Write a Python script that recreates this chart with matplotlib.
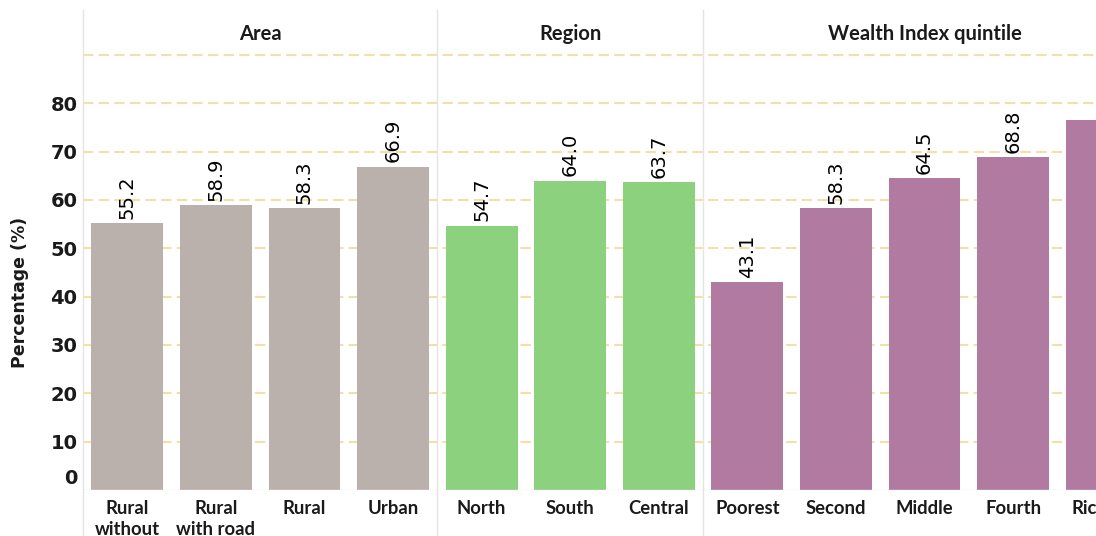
import matplotlib
matplotlib.use("Agg")
from matplotlib import pyplot as plt
from matplotlib.transforms import ScaledTranslation

# Percentages by group
groups = ["Area", "Region", "Wealth Index quintile"]
area_labels = ["Rural\nwithout\nroad", "Rural\nwith road", "Rural", "Urban"]
area_values = [55.2, 58.9, 58.3, 66.9]
region_labels = ["North", "South", "Central"]
region_values = [54.7, 64.0, 63.7]
wealth_labels = ["Poorest", "Second", "Middle", "Fourth", "Richest"]
wealth_values = [43.1, 58.3, 64.5, 68.8, 76.5]

colors = ["#BAB0AC", "#8CD17D", "#B07AA1"]
yticks = [0, 10, 20, 30, 40, 50, 60, 70, 80]

W, H = 1096, 536
fig = plt.figure(figsize=(W / 100, H / 100), dpi=100)

# axes runs past the right edge so the last bar is cut off
left, right, top, bottom = 83, 1146, 55, 490
ax = fig.add_axes([left / W, (H - bottom) / H, (right - left) / W, (bottom - top) / H])
ax.set_xlim(-0.5, 11.5)
ax.set_ylim(0, 90)

sets = [(area_labels, area_values), (region_labels, region_values), (wealth_labels, wealth_values)]
pos = 0
all_labels = []
all_pos = []
bounds = [-0.5]
for (labels, values), color, name in zip(sets, colors, groups):
    xs = list(range(pos, pos + len(values)))
    ax.bar(xs, values, width=0.81, color=color, zorder=2)
    for x, v in zip(xs, values):
        # labels whose bar centre falls outside the figure are not shown
        px = ax.transData.transform((x, 0))[0]
        if px > W:
            continue
        ax.annotate(f"{v:.1f}", (x, v), xytext=(0, 3), textcoords="offset points",
                    rotation=90, ha="center", va="bottom", fontsize=14, color="black")
    # group header above the plot area
    ax.text((xs[0] + xs[-1]) / 2, 94.4, name, ha="center", va="center",
            fontsize=14.5, fontweight="bold", family="Lato", color="#1a1a1a", clip_on=False)
    all_labels += labels
    all_pos += xs
    pos += len(values)
    bounds.append(pos - 0.5)

# dashed gridlines
for g in range(10, 100, 10):
    ax.axhline(g, color="#F3E0A8", lw=1.5, ls=(0, (5, 2.5)), zorder=1, clip_on=False)

# pane separators
for b in bounds:
    ax.plot([b, b], [-10, 99.3], color="#E4E4E4", lw=1, clip_on=False, zorder=0)
ax.axhline(0, color="#E4E4E4", lw=1, zorder=3)

for s in ax.spines.values():
    s.set_visible(False)

ax.set_yticks(yticks)
ax.set_yticklabels([str(t) for t in yticks], fontsize=14, fontweight="bold", color="#1a1a1a")
ax.tick_params(axis="y", length=0, pad=4)
zero = ax.get_yticklabels()[0]
zero.set_transform(zero.get_transform() + ScaledTranslation(0, 13 / 100, fig.dpi_scale_trans))

ax.set_xticks(all_pos)
ax.set_xticklabels(all_labels, fontsize=13.3, fontweight="bold", family="Lato",
                   color="#1a1a1a", linespacing=1.3, va="top")
ax.tick_params(axis="x", length=0, pad=7)

fig.text(20 / W, 1 - 292 / H, "Percentage (%)", rotation=90, ha="center", va="center",
         fontsize=12.5, fontweight="bold", color="#1a1a1a")

fig.savefig("out.png", dpi=100)
